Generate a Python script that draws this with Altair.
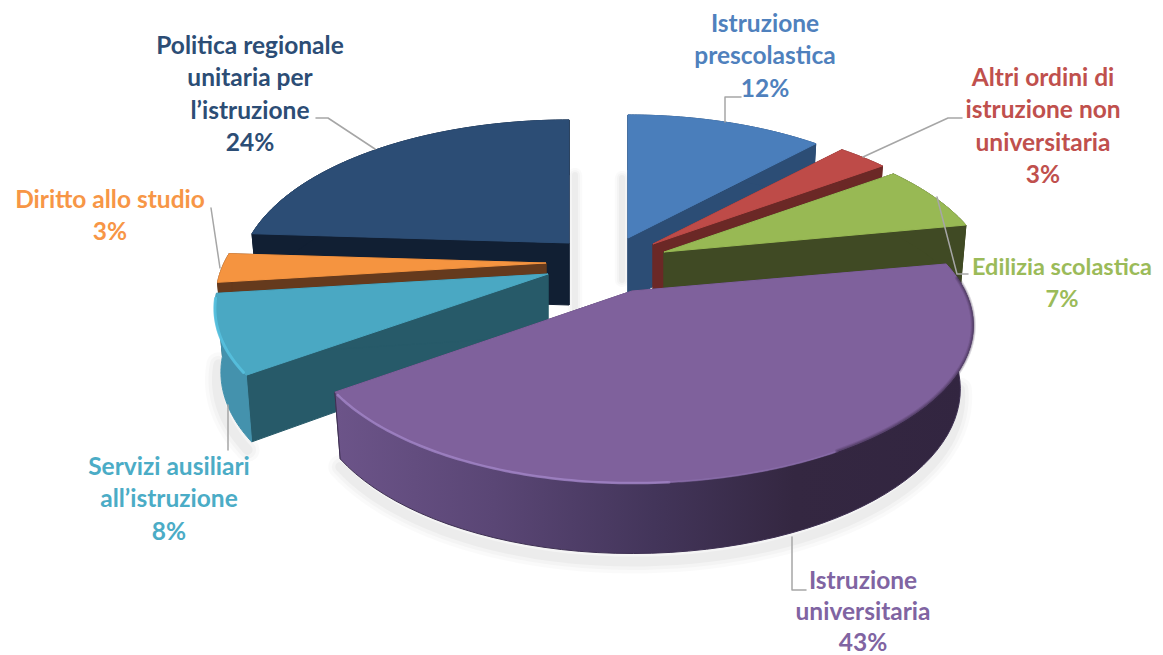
import math
import altair as alt
import pandas as pd

# ---- values ----
names = ["Istruzione prescolastica", "Altri ordini di istruzione non universitaria",
         "Edilizia scolastica", "Istruzione universitaria", "Servizi ausiliari all’istruzione",
         "Diritto allo studio", "Politica regionale unitaria per l’istruzione"]
shares = [12, 3, 7, 43, 8, 3, 24]
label_lines = [["Istruzione", "prescolastica", "12%"],
               ["Altri ordini di", "istruzione non", "universitaria", "3%"],
               ["Edilizia scolastica", "7%"],
               ["Istruzione", "universitaria", "43%"],
               ["Servizi ausiliari", "all’istruzione", "8%"],
               ["Diritto allo studio", "3%"],
               ["Politica regionale", "unitaria per", "l’istruzione", "24%"]]

# ---- layout / style ----
top_col = ["#4A7EBB", "#BE4B48", "#98B954", "#7F619C", "#4AA8C3", "#F59440", "#2C4D75"]
cut_col = ["#2C4D75", "#6B2826", "#404A24", "#4A3A5E", "#275A69", "#653A1D", "#111F33"]
rim_col = ["#2C4D75", "#6B2826", "#404A24", None, "#4492AD", "#653A1D", "#111F33"]
text_col = ["#4F81BD", "#C0504D", "#9BBB59", "#8064A2", "#4BACC6", "#F79646", "#2C4D75"]
apex = [(628, 238), (653, 244), (664, 252), (632, 291), (548, 274), (546, 263), (569, 243)]
# horizontal half-axis of each slice, for its part right / left of the apex
axis_r = [318, 320, 320, 333, 323, 322, 322]
axis_l = [318, 320, 320, 320, 325, 322, 322]
shrink_r = [0.982, 0.982, 0.982, 0.962, 0.982, 0.982, 0.982]
label_pos = [(765, 25), (1043, 79), (1062, 268), (863, 582), (169, 468), (110, 201), (250, 47)]
label_step = [32.4, 32.4, 32.4, 31.0, 32.4, 32.4, 32.4]
label_size = [24.5, 24.5, 23.5, 24.5, 24.5, 24.5, 24.5]
leaders = [[(725, 122), (725, 97), (741, 97)], [(863, 157), (948, 118), (962, 118)],
           [(937, 197), (957, 274), (968, 274)], [(792, 537), (792, 590), (806, 590)],
           [(228, 405), (228, 450)], [(211, 208), (220, 268)],
           [(375, 149), (328, 118), (316, 118)]]
draw_order = [6, 5, 4, 0, 1, 2, 3]
B, K, DEPTH, KD, SHRINK = 150, 0.219, 62, 0.12, 0.982

sx = alt.Scale(domain=[8, 1155], range=[0, 1147], nice=False, zero=False)
sy = alt.Scale(domain=[8, 655], range=[0, 647], nice=False, zero=False)


def top(k, th):
    c = apex[k]
    t = math.radians(th)
    X, Y = math.sin(t), math.cos(t)
    w = 1 + K * Y
    a = axis_r[k] if X >= 0 else axis_l[k]
    return c[0] + a * X / w, c[1] - B * Y / w


def bot(k, th):
    c = apex[k]
    t = math.radians(th)
    x, y = top(k, th)
    s = shrink_r[k] if x >= c[0] else SHRINK
    return c[0] + (x - c[0]) * s, y + DEPTH / (1 + KD * math.cos(t))


def arc(f, k, a, b, n=60):
    return [f(k, a + (b - a) * i / n) for i in range(n + 1)]


def frame(pts):
    return pd.DataFrame({"x": [p[0] for p in pts], "y": [p[1] for p in pts], "i": range(len(pts))})


def enc(ch):
    return ch.encode(x=alt.X("x:Q", scale=sx, axis=None), y=alt.Y("y:Q", scale=sy, axis=None), order="i:Q")


def poly(pts, fill, stroke=None, sw=1.0):
    pts = pts + [pts[0]]
    return enc(alt.Chart(frame(pts)).mark_line(fill=fill, stroke=stroke or fill, strokeWidth=sw,
                                               strokeJoin="round", interpolate="linear"))


def stroke(pts, color, sw, opacity=1.0):
    return enc(alt.Chart(frame(pts)).mark_line(stroke=color, strokeWidth=sw, opacity=opacity,
                                               strokeJoin="round", strokeCap="round"))


wall_grad = alt.LinearGradient(gradient="linear", x1=0, x2=1, y1=0, y2=0, stops=[
    alt.GradientStop(color="#6C5489", offset=0), alt.GradientStop(color="#5A4675", offset=0.25),
    alt.GradientStop(color="#43355A", offset=0.5), alt.GradientStop(color="#342741", offset=0.72),
    alt.GradientStop(color="#322540", offset=1)])

angles = []
cum = 0
for s in shares:
    angles.append((cum * 3.6, (cum + s) * 3.6))
    cum += s

layers = []

# soft shadows under the slices
pa, pb = angles[3]
ta, tb = angles[4]
for w_, o in [(24, 0.02), (17, 0.025), (10, 0.03)]:
    layers.append(stroke([(x, y + 8) for x, y in arc(bot, 3, 100, pb)], "#000000", w_, o))
    layers.append(stroke([(x - 4, y + 8) for x, y in arc(bot, 4, ta, tb)], "#000000", w_, o))
    layers.append(stroke([(apex[0][0] - 6, 178), (apex[0][0] - 6, 280)], "#000000", w_ * 0.6, o))
    layers.append(stroke([(apex[6][0] + 6, 175), (apex[6][0] + 6, 310)], "#000000", w_ * 0.6, o))

for k in draw_order:
    c = apex[k]
    a, b = angles[k]
    for th in (a, b):
        layers.append(poly([c, top(k, th), bot(k, th), (c[0], c[1] + DEPTH)], cut_col[k]))
    rim = arc(top, k, a, b) + arc(bot, k, a, b)[::-1]
    layers.append(poly(rim, wall_grad if k == 3 else rim_col[k], "#3E3052" if k == 3 else None, 1))
    layers.append(poly([c] + arc(top, k, a, b), top_col[k]))

# bevel highlights on the front rims
layers.append(stroke(arc(top, 3, 233, 175), "#A286C8", 2.5, 0.8))
layers.append(stroke(arc(top, 3, 175, 150), "#8F73B2", 2, 0.5))
for w_, o in [(5, 0.18), (3, 0.25), (1.5, 0.3)]:
    layers.append(stroke(arc(top, 3, 85, 150), "#3E2F50", w_, o))
layers.append(stroke(arc(top, 4, 235, 261), "#56C0DE", 3, 0.9))

# leader lines
for pts in leaders:
    layers.append(stroke(pts, "#A6A6A6", 1.5))

# labels
rows = []
for k, lines in enumerate(label_lines):
    for j, t in enumerate(lines):
        rows.append({"x": label_pos[k][0], "y": label_pos[k][1] + j * label_step[k], "t": t,
                     "c": text_col[k], "s": label_size[k]})
labels = alt.Chart(pd.DataFrame(rows)).mark_text(font="Lato", fontWeight="bold",
                                                 align="center", baseline="middle").encode(
    x=alt.X("x:Q", scale=sx, axis=None), y=alt.Y("y:Q", scale=sy, axis=None),
    text="t:N", color=alt.Color("c:N", scale=None), size=alt.Size("s:Q", scale=None))
layers.append(labels)

chart = alt.layer(*layers).properties(
    width=1147, height=647, padding=0, autosize=alt.AutoSizeParams(type="none")
).configure_view(stroke=None)
chart.save("out.html", embed_options={"renderer": "svg", "actions": False})
